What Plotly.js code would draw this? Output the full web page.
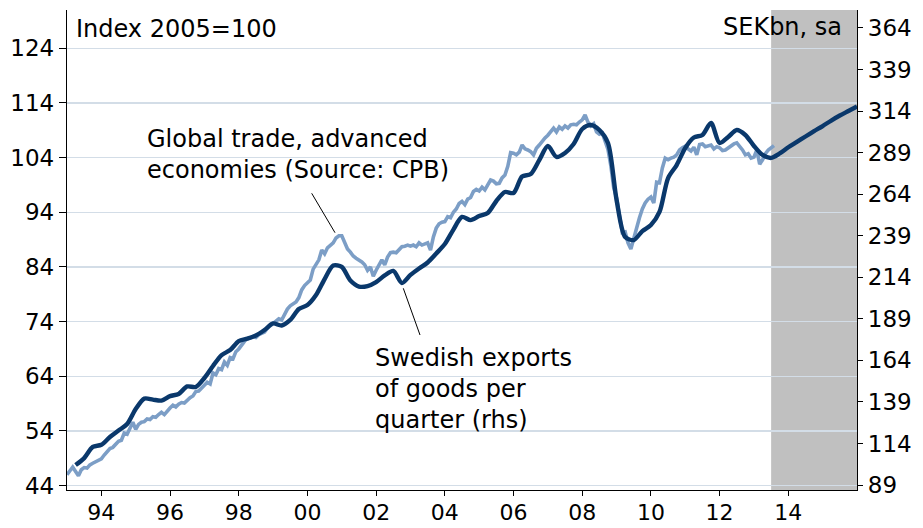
<!DOCTYPE html>
<html>
<head>
<meta charset="utf-8">
<script src="https://cdn.plot.ly/plotly-3.0.1.min.js"></script>
<style>html,body{margin:0;padding:0;background:#fff;}#chart{width:923px;height:528px;}</style>
</head>
<body>
<div id="chart"></div>
<script>
// ---- Data ----
// Global trade, advanced economies (Index 2005=100), monthly from Jan 1993
const tradeStartYear = 1993;
const globalTrade = [
  46.0, 46.8, 47.4, 46.6, 45.8, 46.9, 47.3, 47.2, 47.8, 48.1, 48.4, 48.7,
  48.9, 49.6, 50.1, 50.8, 51.0, 51.6, 52.1, 52.3, 53.6, 53.4, 54.6, 55.6,
  54.3, 55.2, 55.6, 55.7, 56.2, 56.1, 56.6, 56.5, 57.0, 57.4, 57.0, 57.7,
  58.2, 58.7, 58.4, 58.9, 59.2, 59.1, 59.7, 60.1, 60.4, 61.2, 61.3, 61.8,
  62.3, 62.9, 62.6, 64.6, 64.3, 65.4, 65.2, 66.6, 66.0, 67.4, 67.2, 68.5,
  69.0, 69.8, 70.4, 70.9, 71.0, 71.3, 71.1, 71.6, 71.8, 72.1, 72.8, 73.2,
  73.6, 74.0, 74.5, 74.3, 75.4, 76.3, 76.9, 77.3, 77.6, 78.4, 79.8, 80.6,
  81.2, 81.6, 83.6, 84.5, 85.3, 87.1, 86.4, 87.5, 88.0, 88.4, 89.3, 89.7,
  89.7, 88.6, 87.3, 86.7, 86.0, 85.6, 85.3, 84.9, 84.4, 83.4, 84.0, 82.3,
  83.4, 84.2, 85.3, 84.4, 85.8, 86.6, 86.7, 86.6, 87.1, 87.7, 87.8, 88.0,
  87.8, 88.0, 87.7, 88.4, 88.0, 88.2, 88.4, 87.1, 89.5, 91.1, 91.9, 92.2,
  92.3, 93.2, 93.0, 94.0, 94.6, 95.6, 96.0, 95.4, 96.4, 96.7, 97.8, 98.2,
  97.9, 98.6, 98.1, 99.0, 99.9, 99.7, 99.2, 99.3, 100.3, 100.8, 102.4, 104.9,
  104.8, 104.5, 105.0, 106.3, 105.6, 105.4, 105.1, 104.5, 105.7, 106.3, 107.0, 107.6,
  108.1, 108.7, 109.4, 108.7, 109.6, 109.2, 109.8, 109.4, 110.0, 110.1, 110.0, 110.5,
  110.9, 111.8, 110.5, 109.8, 110.2, 108.7, 108.3, 108.5, 106.9, 105.5, 102.5, 98.5,
  96.6, 93.4, 90.3, 90.4, 88.4, 87.3, 89.3, 91.3, 93.0, 94.6, 95.7, 96.4,
  96.8, 95.7, 99.5, 99.4, 102.1, 103.9, 103.6, 103.9, 104.1, 104.5, 105.4, 105.8,
  106.1, 105.6, 105.2, 105.9, 104.5, 106.4, 106.5, 106.0, 106.1, 106.3, 105.6, 106.0,
  105.8, 105.3, 105.4, 105.8, 106.1, 106.5, 106.7, 106.1, 105.4, 104.5, 104.7, 103.9,
  104.1, 105.4, 102.8, 103.6, 104.7, 105.4, 105.8, 106.2
];

// Swedish exports of goods per quarter, SEKbn sa (rhs), quarterly from 1993 Q2 (incl. forecast)
const exportsStart = 1993.25;
const swedishExports = [
  101.0, 105.2, 111.9,
  113.2, 117.9, 121.8, 125.7,
  134.7, 141.0, 140.4, 139.8,
  142.5, 143.8, 148.3, 148.0,
  153.4, 160.6, 167.2, 170.2,
  175.6, 177.1, 179.0, 182.3,
  186.2, 185.0, 188.3, 194.9,
  197.3, 203.3, 212.9, 221.1,
  220.2, 212.0, 208.4, 208.7,
  211.1, 215.1, 217.8, 210.5,
  215.4, 219.3, 222.9, 228.3,
  234.0, 242.7, 250.3, 248.4,
  250.8, 252.7, 259.9, 265.3,
  264.7, 274.6, 276.1, 284.5,
  293.0, 286.4, 288.8, 294.2,
  303.2, 305.6, 302.6, 294.8,
  260.5, 238.2, 236.4, 241.8,
  245.4, 253.3, 273.7, 281.5,
  291.8, 298.1, 299.6, 306.8,
  294.8, 298.4, 302.6, 299.6,
  293.0, 287.6, 285.8, 288.5,
  292.2, 295.4, 298.7, 301.9,
  305.0, 308.3, 311.3, 314.0,
  316.7
];

const forecastStart = 2013.5;
const xTickVals = [1994, 1996, 1998, 2000, 2002, 2004, 2006, 2008, 2010, 2012, 2014];
const xTickText = ["94", "96", "98", "00", "02", "04", "06", "08", "10", "12", "14"];
const leftTicks = [44, 54, 64, 74, 84, 94, 104, 114, 124];
const rightTicks = [89, 114, 139, 164, 189, 214, 239, 264, 289, 314, 339, 364];

// ---- Build ----
const tradeX = globalTrade.map((_, i) => tradeStartYear + i / 12);
const exportsX = swedishExports.map((_, i) => exportsStart + i / 4);

const FONT = "DejaVu Sans, Verdana, sans-serif";

const traces = [
  {
    x: tradeX, y: globalTrade, type: "scatter", mode: "lines",
    line: { color: "#7c9ec6", width: 3.6 },
    yaxis: "y", hoverinfo: "skip"
  },
  {
    x: exportsX, y: swedishExports, type: "scatter", mode: "lines",
    line: { color: "#0a386b", width: 4.4, shape: "spline", smoothing: 0.8 },
    yaxis: "y2", hoverinfo: "skip"
  }
];

const PL = 67, PR = 857, PT = 10, PB = 490;
const px = v => (v - PL) / (PR - PL);
const py = v => 1 - (v - PT) / (PB - PT);

const layout = {
  width: 923, height: 528,
  margin: { l: PL, r: 923 - PR, t: PT, b: 528 - PB, pad: 0 },
  paper_bgcolor: "#ffffff", plot_bgcolor: "#ffffff",
  showlegend: false,
  font: { family: FONT, size: 23, color: "#000" },
  xaxis: {
    range: [1993, 2016], tickvals: xTickVals, ticktext: xTickText,
    ticks: "outside", ticklen: 5, tickcolor: "#000", tickwidth: 1,
    ticklabelstandoff: -3,
    showline: true, linecolor: "#000", linewidth: 1.2,
    showgrid: false, zeroline: false,
    tickfont: { family: FONT, size: 22, color: "#000" }
  },
  yaxis: {
    range: [43.2, 131], tickvals: leftTicks,
    ticks: "outside", ticklen: 7, tickcolor: "#000", tickwidth: 1,
    showline: true, linecolor: "#000", linewidth: 1.2,
    showgrid: true, gridcolor: "#d3dde7", gridwidth: 1.5, zeroline: false,
    tickfont: { family: FONT, size: 23, color: "#000" }
  },
  yaxis2: {
    range: [86, 374.8], tickvals: rightTicks, overlaying: "y", side: "right",
    ticks: "outside", ticklen: 5, tickcolor: "#000", tickwidth: 1,
    showline: true, linecolor: "#000", linewidth: 1.2,
    showgrid: false, zeroline: false,
    tickfont: { family: FONT, size: 23, color: "#000" }
  },
  shapes: [
    { type: "rect", xref: "x", yref: "paper", x0: forecastStart, x1: 2016, y0: 0, y1: 1,
      fillcolor: "#c0c0c0", line: { width: 0 }, layer: "below" },
    { type: "line", xref: "paper", yref: "paper",
      x0: px(311.7), y0: py(193.3), x1: px(335), y1: py(232.7),
      line: { color: "#000", width: 1 } },
    { type: "line", xref: "paper", yref: "paper",
      x0: px(403.3), y0: py(288.3), x1: px(420), y1: py(335),
      line: { color: "#000", width: 1 } }
  ],
  annotations: [
    { text: "Index 2005=100", xref: "paper", yref: "paper", x: px(74), y: py(28.5),
      xanchor: "left", yanchor: "middle", showarrow: false, font: { family: FONT, size: 24, color: "#000" } },
    { text: "SEKbn, sa", xref: "paper", yref: "paper", x: px(844), y: py(27),
      xanchor: "right", yanchor: "middle", showarrow: false, font: { family: FONT, size: 24, color: "#000" } },
    { text: "Global trade, advanced<br>economies (Source: CPB)", xref: "paper", yref: "paper",
      x: px(145), y: py(155), xanchor: "left", yanchor: "middle", align: "left", showarrow: false,
      font: { family: FONT, size: 24, color: "#000" } },
    { text: "Swedish exports<br>of goods per<br>quarter (rhs)", xref: "paper", yref: "paper",
      x: px(373), y: py(389), xanchor: "left", yanchor: "middle", align: "left", showarrow: false,
      font: { family: FONT, size: 24, color: "#000" } }
  ]
};

Plotly.newPlot("chart", traces, layout, { staticPlot: true, displayModeBar: false });
</script>
</body>
</html>
